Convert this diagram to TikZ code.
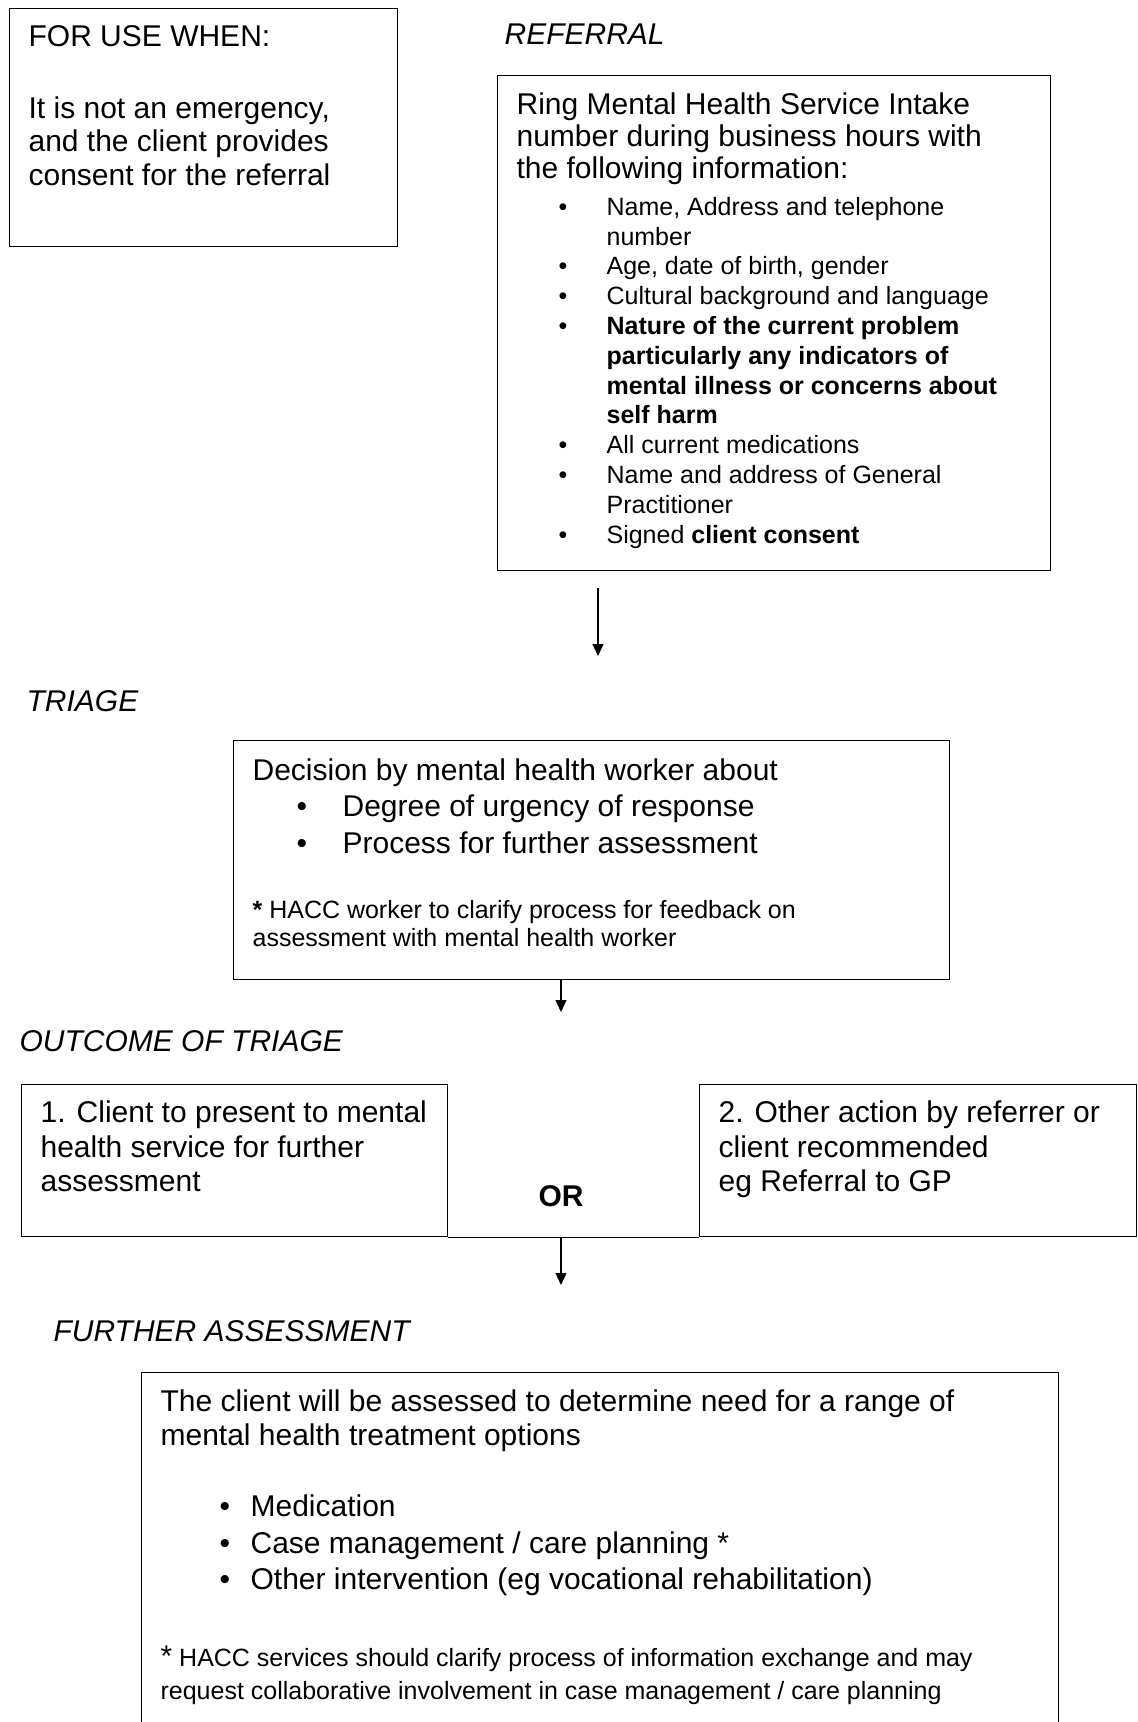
\documentclass[tikz,border=0pt]{standalone}
\usepackage{fontspec}
\setmainfont{Liberation Sans}
\usetikzlibrary{arrows.meta}
\newcommand\bigtxt[1][33.5]{\fontsize{30}{#1}\selectfont}
\newcommand\smalltxt[1][29.8]{\fontsize{25}{#1}\selectfont}
\newcommand\bitem[2][42pt]{\par\noindent\hangindent=90pt\hangafter=1\makebox[90pt][l]{\hspace{#1}\textbullet}#2}
\newcommand\boxtext[3]{\parbox[c][#2][t]{#1}{\rightskip=0pt plus 1fil\relax#3}}
\begin{document}
\begin{tikzpicture}[x=1pt,y=-1pt,line width=1.2pt,>={Triangle[length=12pt,width=11pt]},
  panel/.style={draw,anchor=north west,inner xsep=19pt,inner ysep=14pt},
  head/.style={anchor=base west,inner sep=0pt,font=\bigtxt\itshape}]
\useasboundingbox (0,0) rectangle (1138,1722);
\clip (0,0) rectangle (1138,1722);
\node[panel] (use) at (9,8) {\boxtext{350pt}{210pt}{\bigtxt\strut FOR USE WHEN:\\[38.5pt]It is not an emergency,\\and the client provides\\consent for the referral}};
\node[head] (hrefer) at (504,44) {REFERRAL};
\node[panel] (refer) at (497,75) {\boxtext{515pt}{467pt}{\vspace*{2.5pt}\bigtxt[32]\strut Ring Mental Health Service Intake\\number during business hours with\\the following information:\par
  \smalltxt\vspace{7pt}
  \bitem{Name, Address and telephone\\number}
  \bitem{Age, date of birth, gender}
  \bitem{Cultural background and language}
  \bitem{\textbf{Nature of the current problem\\particularly any indicators of\\mental illness or concerns about\\self harm}}
  \bitem{All current medications}
  \bitem{Name and address of General\\Practitioner}
  \bitem{Signed \textbf{client consent}}}};
\node[head] (htriage) at (26,711) {TRIAGE};
\node[panel] (decide) at (233,740) {\boxtext{678pt}{211pt}{\bigtxt[36.5]\strut Decision by mental health worker about\par
  \bitem[44pt]{Degree of urgency of response}
  \bitem[44pt]{Process for further assessment}\par
  \smalltxt[28.5]\vspace{36.5pt}\noindent\textbf{*} HACC worker to clarify process for feedback on\\assessment with mental health worker}};
\node[head] (houtcome) at (19,1051) {OUTCOME OF TRIAGE};
\node[panel] (opt1) at (21,1084) {\boxtext{388pt}{124pt}{\bigtxt[34.5]\strut 1. Client to present to mental\\health service for further\\assessment}};
\node[panel] (opt2) at (699,1084) {\boxtext{399pt}{124pt}{\bigtxt[34.5]\strut 2. Other action by referrer or\\client recommended\\eg Referral to GP}};
\node[anchor=base,inner sep=0pt,font=\bigtxt\bfseries] (or) at (561,1206) {OR};
\node[head] (hfurther) at (53,1341) {FURTHER ASSESSMENT};
\node[panel] (assess) at (141,1372) {\boxtext{879pt}{340pt}{\vspace*{1.5pt}\bigtxt[34]\strut The client will be assessed to determine need for a range of\\mental health treatment options\par
  \bigtxt[36.5]\vspace{34.5pt}
  \bitem[59pt]{Medication}
  \bitem[59pt]{Case management / care planning *}
  \bitem[59pt]{Other intervention (eg vocational rehabilitation)}\par
  \smalltxt[33]\vspace{44pt}\noindent{\bigtxt *} HACC services should clarify process of information exchange and may\\request collaborative involvement in case management / care planning}};
\coordinate (a1s) at (598,588);
\coordinate (a1) at (598,656);
\coordinate (a2) at (561,1012);
\coordinate (a3) at (561,1285);
\draw[->] (a1s) -- (a1);
\draw[->] (decide.south -| a2) -- (a2);
\draw (opt1.south east) -- (opt2.south west);
\draw[->] (opt1.south -| a3) -- (a3);
\end{tikzpicture}
\end{document}
